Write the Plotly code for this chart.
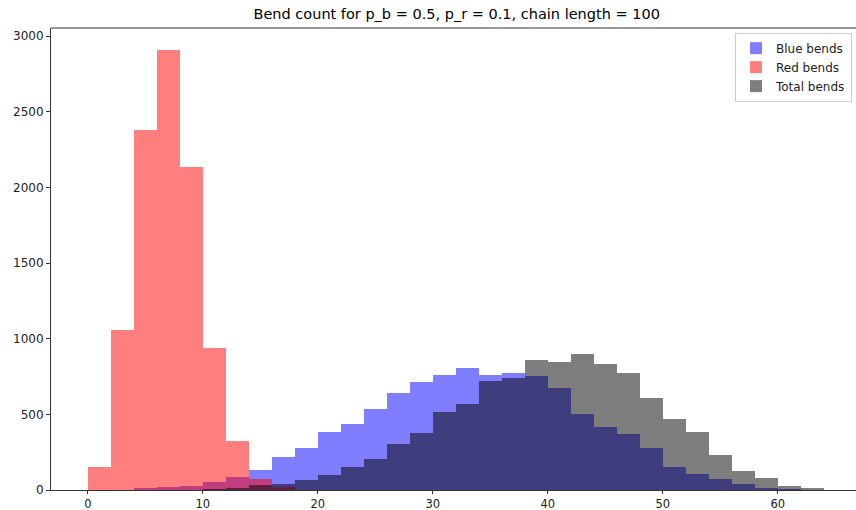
import plotly.graph_objects as go

BIN_WIDTH = 2

# Blue bends histogram (bins of width 2, left edges)
blue_start = 4
blue_counts = [8, 22, 26, 55, 86, 135, 218, 276, 385, 434, 533, 643, 712, 758,
               806, 762, 771, 753, 674, 500, 416, 372, 280, 153, 104, 75, 40, 13, 4]

# Red bends histogram
red_start = 0
red_counts = [154, 1058, 2380, 2908, 2137, 936, 324, 73, 18]

# Total bends histogram
total_start = 10
total_counts = [3, 11, 33, 42, 66, 101, 154, 207, 306, 379, 513, 571, 718, 743,
                861, 846, 897, 833, 771, 606, 469, 383, 231, 126, 77, 29, 13]

x_ticks = [0, 10, 20, 30, 40, 50, 60]
y_ticks = [0, 500, 1000, 1500, 2000, 2500, 3000]


def edges(start, counts):
    return [start + BIN_WIDTH * i for i in range(len(counts))]


fig = go.Figure()
for name, start, counts, color in [
    ("Blue bends", blue_start, blue_counts, "blue"),
    ("Red bends", red_start, red_counts, "red"),
    ("Total bends", total_start, total_counts, "black"),
]:
    fig.add_trace(go.Bar(
        x=edges(start, counts), y=counts, width=BIN_WIDTH, offset=0,
        name=name, marker=dict(color=color, line=dict(width=0)),
        opacity=0.5,
    ))

fig.update_layout(
    width=856, height=510,
    margin=dict(l=51, r=0, t=28, b=20),
    barmode="overlay", bargap=0,
    paper_bgcolor="white", plot_bgcolor="white",
    font=dict(family="DejaVu Sans", size=12, color="#222222"),
    title=dict(text="Bend count for p_b = 0.5, p_r = 0.1, chain length = 100",
               x=0.504, xref="paper", xanchor="center",
               y=0.982, yref="container", yanchor="top",
               font=dict(size=14.5, color="black")),
    legend=dict(x=0.995, xanchor="right", y=0.99, yanchor="top",
                bordercolor="#cccccc", borderwidth=1, bgcolor="white",
                font=dict(size=12), tracegroupgap=0, itemwidth=30),
    xaxis=dict(range=[-3.2, 66.8], tickvals=x_ticks, ticks="outside", ticklen=3,
               tickcolor="#333333", showline=True, linecolor="#333333", linewidth=1,
               mirror=False, showgrid=False, zeroline=False, automargin=False,
               tickfont=dict(size=11.5)),
    yaxis=dict(range=[0, 3053], tickvals=y_ticks, ticks="outside", ticklen=4,
               tickcolor="#333333", showline=True, linecolor="#333333", linewidth=1,
               showgrid=False, zeroline=False, automargin=False),
    shapes=[dict(type="line", xref="paper", yref="paper", x0=0, x1=1, y0=1, y1=1,
                 line=dict(color="#333333", width=1))],
)

fig.write_html("out.html")
